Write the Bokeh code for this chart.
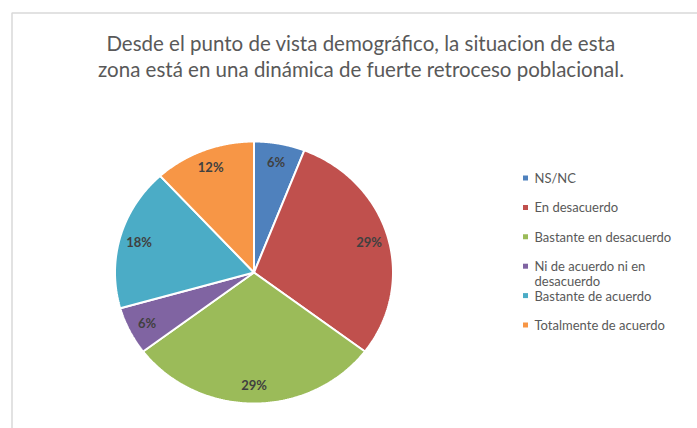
import numpy as np
from bokeh.plotting import figure
from bokeh.models import Range1d, ColumnDataSource
from bokeh.core.properties import value
from bokeh.embed import file_html
from bokeh.resources import INLINE

# ---- data ----
categories = ["NS/NC", "En desacuerdo", "Bastante en desacuerdo",
              "Ni de acuerdo ni en desacuerdo", "Bastante de acuerdo",
              "Totalmente de acuerdo"]
legend_labels = ["NS/NC", "En desacuerdo", "Bastante en desacuerdo",
                 "Ni de acuerdo ni en\ndesacuerdo", "Bastante de acuerdo",
                 "Totalmente de acuerdo"]
shares = [5.9, 29.4, 29.4, 5.9, 17.6, 11.8]
colors = ["#4F81BD", "#C0504D", "#9BBB59", "#8064A2", "#4BACC6", "#F79646"]
title_lines = ["Desde el punto de vista demográfico, la situacion de esta",
               "zona está en una dinámica de fuerte retroceso poblacional."]

# ---- layout (page pixel coordinates) ----
W, H = 697, 428
cx, cy, rx, ry = 253.5, 272.0, 139.0, 131.0
FONT = "Lato"

p = figure(width=W, height=H, output_backend="svg", toolbar_location=None,
           x_range=Range1d(0, W), y_range=Range1d(H, 0),
           min_border=0)
p.axis.visible = False
p.grid.visible = False
p.outline_line_color = None
p.background_fill_color = "white"

# chart frame (left and top edges visible)
p.line([11.5, 11.5, 700], [430, 12.5, 12.5], line_color="#D9D9D9", line_width=1.5)

# ---- pie ----
vals = np.array(shares, dtype=float)
frac = vals / vals.sum()
cum = np.concatenate([[0.0], np.cumsum(frac)])
xs, ys = [], []
for i in range(len(vals)):
    t = np.linspace(cum[i], cum[i + 1], 120) * 2 * np.pi
    xs.append(list(np.concatenate([[cx], cx + rx * np.sin(t), [cx]])))
    ys.append(list(np.concatenate([[cy], cy - ry * np.cos(t), [cy]])))
p.patches(xs, ys, fill_color=colors, line_color="white", line_width=2)

mid = (cum[:-1] + cum[1:]) / 2 * 2 * np.pi
lf = 0.86
lab_src = ColumnDataSource(dict(
    x=cx + lf * rx * np.sin(mid),
    y=cy - lf * ry * np.cos(mid),
    t=[f"{round(v):.0f}%" for v in frac * 100]))
p.text("x", "y", text="t", source=lab_src, text_align="center",
       text_baseline="middle", text_font=value(FONT), text_font_size="13px",
       text_font_style="bold", text_color="#404040")

# ---- title ----
p.text([360.5, 360.5], [42, 68], text=title_lines, text_align="center",
       text_baseline="middle", text_font=value(FONT), text_font_size="20.5px",
       text_color="#595959")

# ---- legend ----
ly0, lstep = 177.5, 29.4
ly = [ly0 + i * lstep for i in range(len(categories))]
p.scatter([525] * len(categories), ly, marker="square", size=5,
          fill_color=colors, line_color=None)
p.text([534] * len(categories), [y - 8 for y in ly], text=legend_labels,
       text_align="left", text_baseline="top", text_font=value(FONT),
       text_font_size="13px", text_color="#595959", text_line_height=0.95)

open("out.html", "w").write(file_html(p, INLINE))
